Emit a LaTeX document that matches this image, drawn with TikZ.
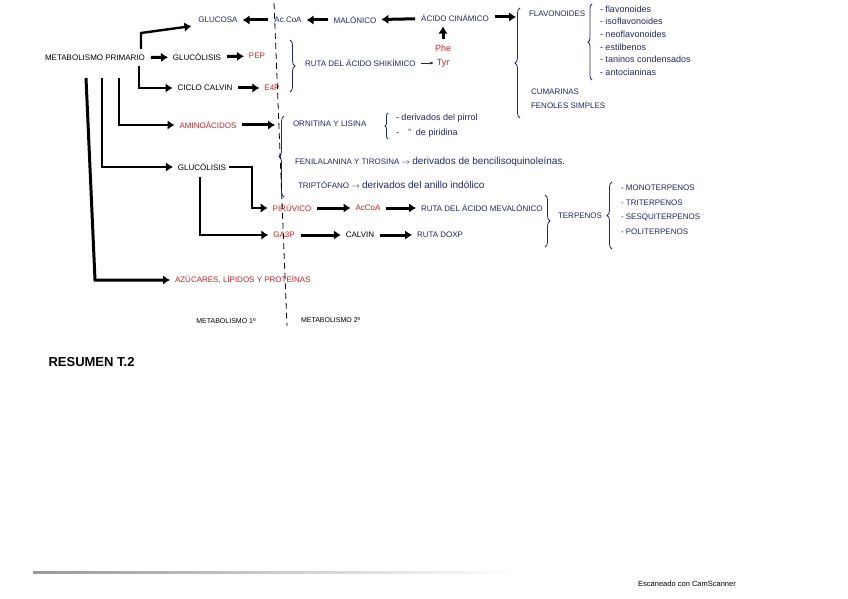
\documentclass[tikz,border=0pt]{standalone}
\usepackage{fontspec}
\setmainfont{Liberation Sans}
\usepackage{xcolor}
\usetikzlibrary{arrows.meta,positioning,decorations.pathreplacing,calc}
\definecolor{tinta}{RGB}{30,38,115}
\definecolor{rojo}{RGB}{215,30,35}

\begin{document}
\begin{tikzpicture}[x=1pt,y=-1pt,>=Latex,
  txt/.style={font=\fontsize{8}{9}\selectfont,inner sep=1pt,outer sep=2pt},
  azul/.style={txt,text=tinta},
  roja/.style={txt,text=rojo},
  manus/.style={txt,text=tinta,font=\fontsize{9}{10}\selectfont},
  flecha/.style={line width=3pt,shorten <=3pt,shorten >=2pt,-{Latex[length=7pt,width=9.5pt]}},
  rama/.style={line width=2.4pt,shorten >=2pt,-{Latex[length=7pt,width=9.5pt]}},
  llave/.style={decorate,decoration={brace,amplitude=#1},thick,tinta},
  llave/.default=5pt]
  \useasboundingbox (0,0) rectangle (848,599);

  % ruta del acido shikimico
  \node[txt] (metprim) at (95,58) {METABOLISMO PRIMARIO};
  \node[azul] (glucosa) at (218,20) {GLUCOSA};
  \node[azul] (acoa) at (288,20) {Ac.CoA};
  \node[azul] (malonico) at (355,20) {MALÓNICO};
  \node[azul] (cinamico) at (455,18) {ÁCIDO CINÁMICO};
  \node[txt] (gluc1) at (197,57) {GLUCÓLISIS};
  \node[roja] (pep) at (257,56) {PEP};
  \node[txt] (calvin1) at (205,88) {CICLO CALVIN};
  \node[roja] (e4p) at (272,88) {E4P};
  \node[azul,anchor=west] (shik) at (302,63) {RUTA DEL ÁCIDO SHIKÍMICO};
  \node[roja,font=\fontsize{9}{10}\selectfont] (phe) at (443,48) {Phe};
  \node[roja,font=\fontsize{9}{10}\selectfont] (tyr) at (443,63) {Tyr};
  \coordinate (llaveF) at (518,17);

  \draw[llave] (290,40) -- (290,92);
  \draw[llave] (520,118) -- (520,8);
  \draw[llave=4pt] (592,80) -- (592,4);
  \node[azul,anchor=west] (flavo) at (526,14) {FLAVONOIDES};
  \foreach \t [count=\i] in {flavonoides,isoflavonoides,neoflavonoides,estilbenos,taninos condensados,antocianinas}
    \node[manus,anchor=west] (fl\i) at (597,{12.6*\i-3.6}) {- \t};
  \node[azul,anchor=west] (cumar) at (528,92) {CUMARINAS};
  \node[azul,anchor=west] (fenol) at (528,106) {FENOLES SIMPLES};

  \draw[flecha] (acoa) -- (glucosa);
  \draw[flecha] (malonico) -- (acoa);
  \draw[flecha] (cinamico) -- (malonico);
  \draw[flecha] (cinamico.east |- llaveF) -- (llaveF);
  \draw[flecha] (phe.north) -- (phe.north |- cinamico.south);
  \draw[tinta,semithick,shorten <=2pt,-{Stealth[length=4pt]}] (shik) -- (tyr);
  \draw[flecha] (metprim) -- (gluc1);
  \draw[flecha] (gluc1) -- (pep);
  \draw[flecha] (calvin1) -- (e4p);
  \draw[rama] (141,49) -- ++(0,-16) -- ($(glucosa.south west)+(-2,0)$);
  \draw[rama] (139,66) |- (calvin1.west);

  % aminoacidos
  \node[roja] (amino) at (208,125) {AMINOÁCIDOS};
  \coordinate (llaveA) at (277,125);
  \draw[rama] (119,78) |- (amino.west);
  \draw[flecha] (amino) -- (llaveA);
  \draw[llave] (284,197) -- (284,116);
  \node[azul,anchor=west] (ornit) at (290,124) {ORNITINA Y LISINA};
  \draw[llave=3pt] (388,139) -- (388,113);
  \node[manus,anchor=west] (pirrol) at (393,118) {- derivados del pirrol};
  \node[manus,anchor=west] (piridina) at (393,133) {-\quad "\ \ de piridina};
  \node[azul,anchor=west] (fenil) at (292,162) {FENILALANINA Y TIROSINA $\to$ {\fontsize{10}{11}\selectfont derivados de bencilisoquinoleínas.}};
  \node[azul,anchor=west] (tripto) at (295,185) {TRIPTÓFANO $\to$ {\fontsize{10}{11}\selectfont derivados del anillo indólico}};

  % terpenos
  \node[txt] (gluc2) at (202,167) {GLUCÓLISIS};
  \node[roja] (piru) at (292,208) {PIRÚVICO};
  \node[roja] (acoa2) at (368,208) {AcCoA};
  \node[azul,anchor=west] (mevalon) at (418,208) {RUTA DEL ÁCIDO MEVALÓNICO};
  \node[roja] (ga3p) at (284,235) {GA3P};
  \node[txt] (calvin2) at (360,235) {CALVIN};
  \node[azul,anchor=west] (doxp) at (414,235) {RUTA DOXP};
  \draw[rama] (102,78) |- (gluc2.west);
  \draw[rama] (gluc2.east) -- (252,167) |- (piru.west);
  \draw[rama] ($(gluc2.south)+(-2,3)$) |- (ga3p.west);
  \draw[flecha] (piru) -- (acoa2);
  \draw[flecha] (acoa2) -- (mevalon);
  \draw[flecha] (ga3p) -- (calvin2);
  \draw[flecha] (calvin2) -- (doxp);
  \draw[llave] (545,195) -- (545,247);
  \node[azul,anchor=west] (terp) at (555,216) {TERPENOS};
  \draw[llave] (612,249) -- (612,182);
  \foreach \t [count=\i] in {MONOTERPENOS,TRITERPENOS,SESQUITERPENOS,POLITERPENOS}
    \node[azul,anchor=west] (tp\i) at (618,{173.3+14.7*\i}) {- \t};

  \node[roja,anchor=west] (azucar) at (172,280) {AZÚCARES, LÍPIDOS Y PROTEÍNAS};
  \draw[rama,line width=3pt] (86,78) -- (95,280) -- (azucar.west);

  \draw[thick,dash pattern=on 6pt off 4pt] (274,3) -- (287,326);
  \node[txt,font=\fontsize{7}{8}\selectfont] (met1) at (226,321) {METABOLISMO 1º};
  \node[txt,font=\fontsize{7}{8}\selectfont,anchor=west] (met2) at (298,320) {METABOLISMO 2º};
  \node[font=\bfseries\fontsize{13}{15}\selectfont,anchor=west] (resumen) at (45,362) {RESUMEN T.2};

  \shade[left color=gray!80,right color=white] (33,571) rectangle (520,573.5);
  \node[font=\fontsize{7.5}{8}\selectfont] (scan) at (687,584) {Escaneado con CamScanner};
\end{tikzpicture}
\end{document}
